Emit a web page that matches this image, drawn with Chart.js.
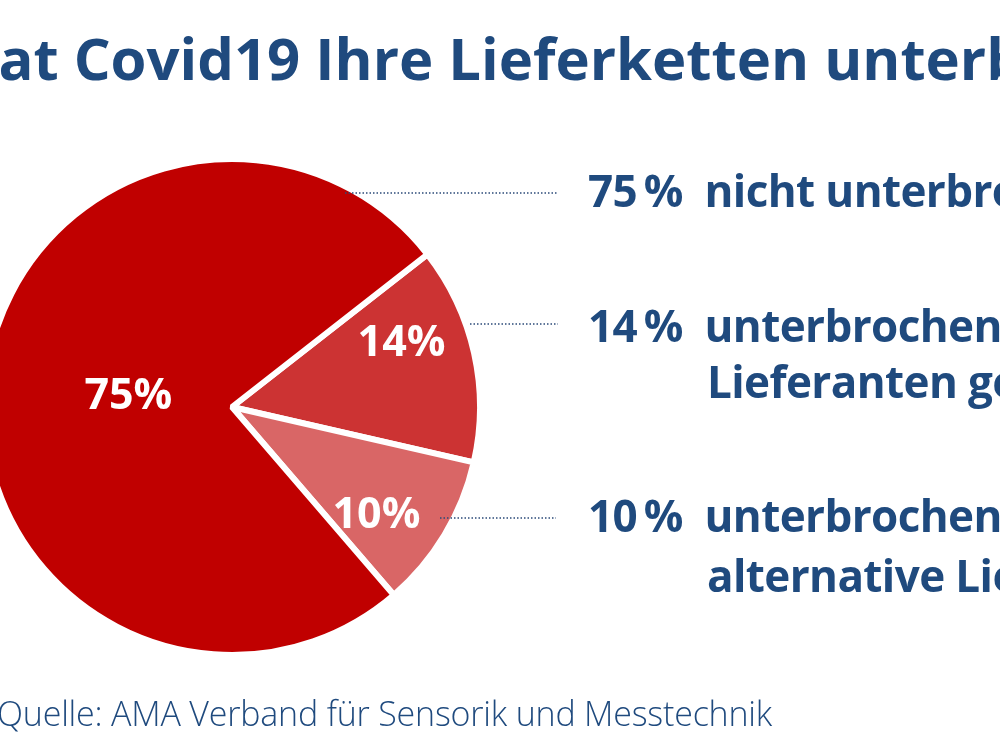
<!DOCTYPE html>
<html>
<head>
<meta charset="utf-8">
<script src="https://cdn.jsdelivr.net/npm/chart.js@4/dist/chart.umd.min.js"></script>
<style>
  html, body { margin: 0; padding: 0; background: #fff; overflow: hidden; }
  #wrap { position: relative; width: 1000px; height: 750px; overflow: hidden; }
  #pieChart { position: absolute; left: 0; top: 0; }
  .txt { position: absolute; white-space: nowrap; color: #1f4a7e; font-family: "Open Sans", sans-serif; }
  #title { font-weight: 700; font-size: 58px; left: -46px; top: 18px; }
  .lab { font-weight: 700; font-size: 44px; letter-spacing: -0.6px; }
  #src { font-weight: 300; font-size: 34px; left: -3px; top: 690px; letter-spacing: -0.2px; }
</style>
</head>
<body>
<div id="wrap">
  <canvas id="pieChart" width="1000" height="750"></canvas>
  <div class="txt" id="title">Hat Covid19 Ihre Lieferketten unterbrochen?</div>
  <div class="txt lab" style="left:588px; top:160px;">75&#8201;%&nbsp;&nbsp;nicht unterbrochen</div>
  <div class="txt lab" style="left:588px; top:295px;">14&#8201;%&nbsp;&nbsp;unterbrochen, neue</div>
  <div class="txt lab" style="left:707px; top:351px;">Lieferanten gefunden</div>
  <div class="txt lab" style="left:588px; top:485px;">10&#8201;%&nbsp;&nbsp;unterbrochen, keine</div>
  <div class="txt lab" style="left:707px; top:545px;">alternative Lieferanten</div>
  <div class="txt" id="src">Quelle: AMA Verband für Sensorik und Messtechnik</div>
</div>
<script>
// slice order: clockwise starting at the upper right edge
const categories = ['unterbrochen, neue Lieferanten gefunden', 'unterbrochen, keine alternative Lieferanten', 'nicht unterbrochen'];
const shares = [14, 10, 75];
const sliceLabels = ['14%', '10%', '75%'];
const sliceColors = ['#cc3333', '#d96666', '#c00000'];

// label placement inside each slice: fraction of radius, angle shift (deg)
const labelRadius = [0.73, 0.73, 0.42];
const labelShift = [-8, 6, 0];
// dotted leader lines: [slice index, y, x start, x end]
const leaders = [[2, 193, 345, 557], [0, 324, 470, 558], [1, 518, 440, 556]];

const slicePlugin = {
    id: 'sliceText',
    afterDatasetsDraw(chart) {
        const ctx = chart.ctx;
        const arcs = chart.getDatasetMeta(0).data;
        ctx.save();
        ctx.fillStyle = '#ffffff';
        ctx.font = 'bold 43px "Open Sans"';
        ctx.textAlign = 'center';
        ctx.textBaseline = 'middle';
        arcs.forEach(function(arc, i) {
            const p = arc.getProps(['x', 'y', 'startAngle', 'endAngle', 'outerRadius'], true);
            const a = (p.startAngle + p.endAngle) / 2 + labelShift[i] * Math.PI / 180;
            const r = p.outerRadius * labelRadius[i];
            ctx.fillText(sliceLabels[i], p.x + Math.cos(a) * r, p.y + Math.sin(a) * r);
        });
        ctx.strokeStyle = '#2b4a78';
        ctx.lineWidth = 1.5;
        ctx.setLineDash([1.5, 2]);
        leaders.forEach(function(l) {
            ctx.beginPath();
            ctx.moveTo(l[2], l[1]);
            ctx.lineTo(l[3], l[1]);
            ctx.stroke();
        });
        ctx.restore();
    }
};

const ctx = document.getElementById('pieChart').getContext('2d');
const pieChart = new Chart(ctx, {
    type: 'pie',
    data: {
        labels: categories,
        datasets: [{
            data: shares,
            backgroundColor: sliceColors,
            borderColor: '#ffffff',
            borderWidth: 6,
            clip: false
        }]
    },
    options: {
        responsive: false,
        animation: false,
        rotation: 52,
        radius: 248,
        layout: { padding: { left: 0, right: 536, top: 64, bottom: 0 } },
        plugins: {
            legend: { display: false },
            tooltip: { enabled: false }
        }
    },
    plugins: [slicePlugin]
});
</script>
</body>
</html>
